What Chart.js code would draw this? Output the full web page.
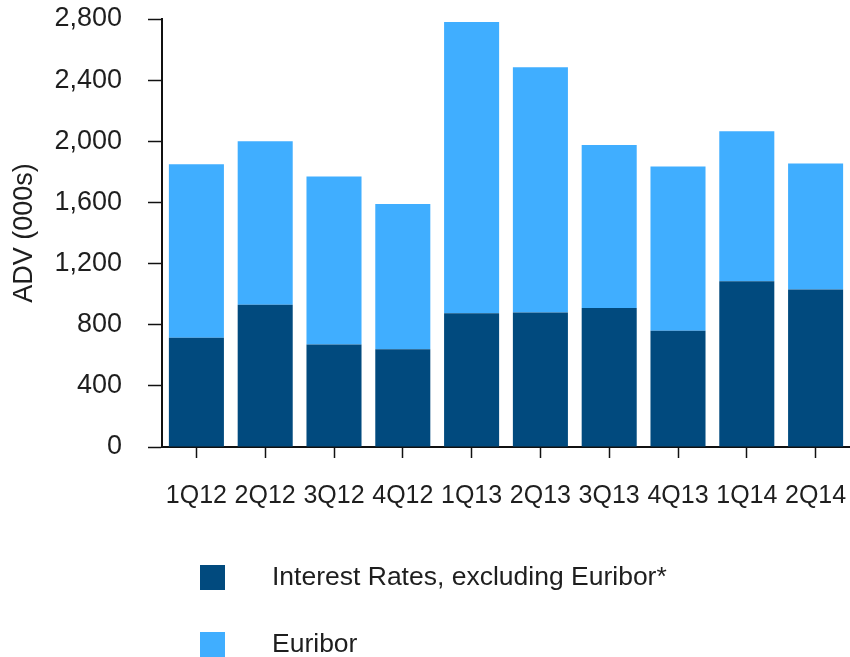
<!DOCTYPE html>
<html lang="en">
<head>
<meta charset="UTF-8">
<title>ADV by quarter</title>
<script src="https://cdn.jsdelivr.net/npm/chart.js@4.4.0/dist/chart.umd.min.js"></script>
<style>
  body {
    margin: 0;
    padding: 0;
    background-color: #ffffff;
  }
  #wrap {
    position: relative;
    width: 850px;
    height: 657px;
  }
</style>
</head>
<body>

<div id="wrap">
  <canvas id="advChart" width="850" height="657"></canvas>
</div>

<script>
const quarters = ['1Q12', '2Q12', '3Q12', '4Q12', '1Q13', '2Q13', '3Q13', '4Q13', '1Q14', '2Q14'];
const interestRates = [715, 930, 670, 640, 875, 880, 910, 760, 1085, 1030];
const euribor = [1135, 1070, 1100, 950, 1905, 1605, 1065, 1075, 980, 825];
const yTicks = [0, 400, 800, 1200, 1600, 2000, 2400, 2800];

const FONT = 'Liberation Sans, Arial, sans-serif';

// legend drawn underneath the axis, one entry per row
const stackedLegend = {
  id: 'stackedLegend',
  afterDraw(chart) {
    const ctx = chart.ctx;
    ctx.save();
    ctx.font = '26.5px ' + FONT;
    ctx.textBaseline = 'middle';
    ctx.textAlign = 'left';
    chart.data.datasets.forEach((ds, i) => {
      const y = 565 + i * 67;
      ctx.fillStyle = ds.backgroundColor;
      ctx.fillRect(200, y, 25, 25);
      ctx.fillStyle = '#1e1e1e';
      ctx.fillText(ds.label, 272, y + 13);
    });
    ctx.restore();
  }
};

// fixed box sizes, no extra room reserved for overhanging labels
function fixBox(size) {
  return function(scale) {
    if (scale.isHorizontal()) scale.height = size;
    else scale.width = size;
    scale.paddingTop = 0;
    scale.paddingBottom = 0;
    scale.paddingLeft = 0;
    scale.paddingRight = 0;
  };
}

new Chart(document.getElementById('advChart').getContext('2d'), {
  type: 'bar',
  data: {
    labels: quarters,
    datasets: [{
      label: 'Interest Rates, excluding Euribor*',
      data: interestRates,
      backgroundColor: '#014a7e',
      barPercentage: 0.8,
      categoryPercentage: 1
    }, {
      label: 'Euribor',
      data: euribor,
      backgroundColor: '#40aeff',
      barPercentage: 0.8,
      categoryPercentage: 1
    }]
  },
  options: {
    responsive: false,
    animation: false,
    layout: { autoPadding: false, padding: { top: 19, right: 0, bottom: 0, left: 0 } },
    plugins: {
      legend: { display: false },
      tooltip: { enabled: false }
    },
    scales: {
      x: {
        stacked: true,
        grid: {
          display: true,
          drawOnChartArea: false,
          drawTicks: true,
          tickLength: 11,
          tickWidth: 1.5,
          tickColor: '#111',
          offset: false
        },
        border: { display: true, color: '#111', width: 2 },
        ticks: {
          autoSkip: false,
          maxRotation: 0,
          minRotation: 0,
          padding: 23,
          color: '#1e1e1e',
          font: { family: FONT, size: 25 }
        },
        afterFit: fixBox(210)
      },
      y: {
        stacked: true,
        min: 0,
        max: 2800,
        afterBuildTicks(scale) {
          scale.ticks = yTicks.map(v => ({ value: v }));
        },
        grid: {
          display: true,
          drawOnChartArea: false,
          drawTicks: true,
          tickLength: 14,
          tickWidth: 1.5,
          tickColor: '#111'
        },
        border: { display: true, color: '#111', width: 2 },
        ticks: {
          padding: 26,
          color: '#1e1e1e',
          font: { family: FONT, size: 27 },
          callback: v => v.toLocaleString('en-US')
        },
        title: {
          display: true,
          text: 'ADV (000s)',
          color: '#1e1e1e',
          font: { family: FONT, size: 27 },
          padding: { top: 8, bottom: 0 }
        },
        afterFit: fixBox(162)
      }
    }
  },
  plugins: [stackedLegend]
});
</script>

</body>
</html>
